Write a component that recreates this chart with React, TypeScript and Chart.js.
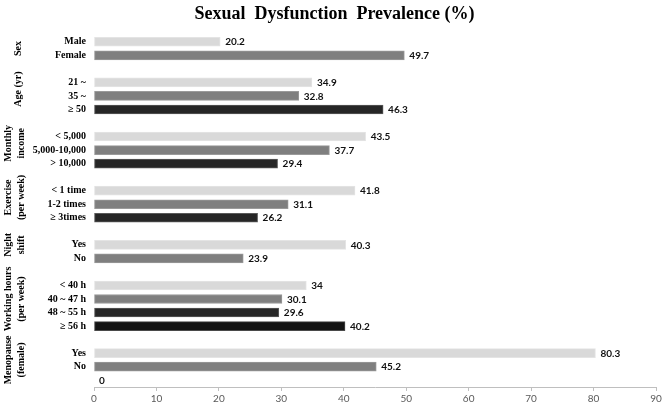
import { useEffect, useRef } from 'react';
import { Chart, registerables } from 'chart.js';

Chart.register(...registerables);

const chartTitle = 'Sexual  Dysfunction  Prevalence (%)';

const categoryLabels = [
  'Male', 'Female', '',
  '21 ~', '35 ~', '≥ 50', '',
  '< 5,000', '5,000-10,000', '> 10,000', '',
  '< 1 time', '1-2 times', '≥ 3times', '',
  'Yes', 'No', '',
  '< 40 h', '40 ~ 47 h', '48 ~ 55 h', '≥ 56 h', '',
  'Yes', 'No', '',
];

const prevalence: (number | null)[] = [
  20.2, 49.7, null,
  34.9, 32.8, 46.3, null,
  43.5, 37.7, 29.4, null,
  41.8, 31.1, 26.2, null,
  40.3, 23.9, null,
  34, 30.1, 29.6, 40.2, null,
  80.3, 45.2, 0,
];

const groupTitles = [
  ['Sex'],
  ['Age (yr)'],
  ['Monthly', 'income'],
  ['Exercise', '(per week)'],
  ['Night', 'shift'],
  ['Working hours', '(per week)'],
  ['Menopause', '(female)'],
];
const groupFirstRow = [0, 2, 6, 10, 14, 17, 22];
const groupLastRow = [1, 5, 9, 13, 16, 21, 25];

const xMin = 0;
const xMax = 90;
const xStep = 10;

const palette = ['#d9d9d9', '#7f7f7f', '#262626', '#141414'];
const edgePalette = ['#e4e4e4', '#9a9a9a', '#5a5a5a', '#4a4a4a'];

function rankInGroup(): number[] {
  const ranks: number[] = [];
  let r = 0;
  for (const v of prevalence) {
    if (v === null) {
      ranks.push(-1);
      r = 0;
    } else {
      ranks.push(r);
      r++;
    }
  }
  return ranks;
}

export default function App() {
  const canvasRef = useRef<HTMLCanvasElement | null>(null);

  useEffect(() => {
    document.body.style.margin = '0';
    const canvas = canvasRef.current;
    if (!canvas) return;
    const ranks = rankInGroup();
    const colors = ranks.map((r) => palette[Math.max(0, r)]);
    const edges = ranks.map((r) => edgePalette[Math.max(0, r)]);

    const labelPlugin = {
      id: 'customLabels',
      afterDatasetsDraw(chart: any) {
        const ctx = chart.ctx;
        const meta = chart.getDatasetMeta(0);
        ctx.save();
        ctx.font = 'bold 10px Lato';
        ctx.fillStyle = '#111111';
        ctx.textAlign = 'left';
        ctx.textBaseline = 'middle';
        meta.data.forEach((el: any, i: number) => {
          const v = prevalence[i];
          if (v === null) return;
          ctx.fillText(String(v), el.x + 5, el.y + 0.5);
        });
        ctx.restore();
      },
      afterDraw(chart: any) {
        const ctx = chart.ctx;
        const yScale = chart.scales.y;
        ctx.save();
        // title
        ctx.font = 'bold 18px "Liberation Serif"';
        ctx.fillStyle = '#000000';
        ctx.textAlign = 'center';
        ctx.textBaseline = 'middle';
        ctx.fillText(chartTitle, chart.width / 2, 14);
        // group labels
        ctx.font = 'bold 10px "Liberation Serif"';
        groupTitles.forEach((lines, g) => {
          const yc =
            (yScale.getPixelForValue(groupFirstRow[g]) +
              yScale.getPixelForValue(groupLastRow[g])) / 2;
          const xs = lines.length === 1 ? [18] : [8, 21];
          lines.forEach((line, k) => {
            ctx.save();
            ctx.translate(xs[k], yc);
            ctx.rotate(-Math.PI / 2);
            ctx.fillText(line, 0, 0);
            ctx.restore();
          });
        });
        ctx.restore();
      },
    };

    const chart = new Chart(canvas, {
      type: 'bar',
      data: {
        labels: categoryLabels,
        datasets: [
          {
            data: prevalence,
            backgroundColor: colors,
            borderColor: edges,
            borderWidth: 1,
            borderSkipped: false,
            barThickness: 9,
          },
        ],
      },
      options: {
        indexAxis: 'y',
        animation: false,
        responsive: false,
        devicePixelRatio: 1,
        layout: { padding: { top: 35, right: 13, left: 0, bottom: 0 } },
        plugins: {
          legend: { display: false },
          title: { display: false },
          tooltip: { enabled: false },
        },
        scales: {
          x: {
            min: xMin,
            max: xMax,
            ticks: {
              stepSize: xStep,
              font: { family: 'Lato', size: 10 },
              color: '#595959',
              padding: 2,
              maxRotation: 0,
            },
            grid: {
              display: true,
              drawOnChartArea: false,
              drawTicks: true,
              tickLength: 4,
              color: '#bfbfbf',
            },
            border: { display: true, color: '#bfbfbf' },
            afterFit: (scale: any) => {
              scale.height = 18;
            },
          },
          y: {
            ticks: {
              font: { family: '"Liberation Serif"', size: 10, weight: 'bold' },
              color: '#000000',
              padding: 8,
              autoSkip: false,
            },
            grid: { display: false, drawTicks: false },
            border: { display: false },
            afterFit: (scale: any) => {
              scale.width = 94;
            },
          },
        },
      },
      plugins: [labelPlugin],
    } as any);

    return () => chart.destroy();
  }, []);

  return (
    <div style={{ width: 669, height: 405 }}>
      <canvas ref={canvasRef} width={669} height={405} />
    </div>
  );
}
